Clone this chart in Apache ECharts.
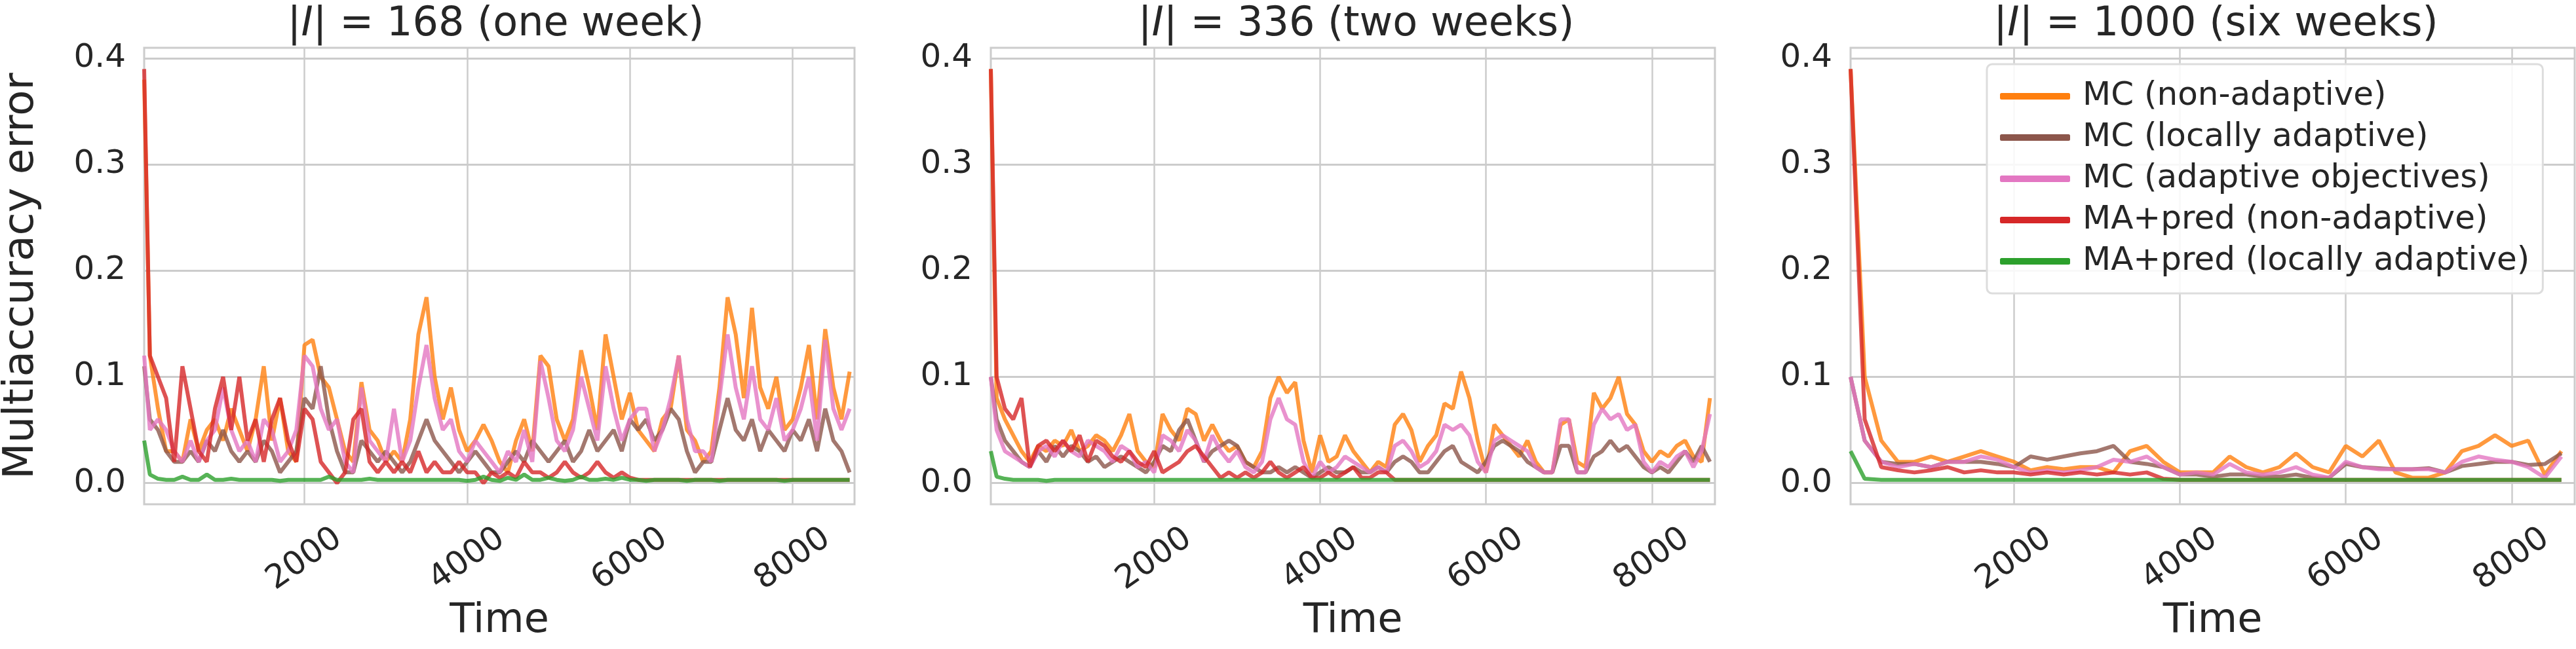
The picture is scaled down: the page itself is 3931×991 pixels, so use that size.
<!DOCTYPE html>
<html>
<head>
<meta charset="utf-8">
<script src="https://cdn.jsdelivr.net/npm/echarts@6/dist/echarts.min.js"></script>
<style>
  html, body { margin: 0; padding: 0; background: #fff; }
  #chart { width: 3931px; height: 991px; }
</style>
</head>
<body>
<div id="chart"></div>
<script>
// series names and colours (legend order)
const names = ["MC (non-adaptive)", "MC (locally adaptive)", "MC (adaptive objectives)", "MA+pred (non-adaptive)", "MA+pred (locally adaptive)"];
const colors = ["#ff7f0e", "#8c564b", "#e377c2", "#d62728", "#2ca02c"];
const titles = ["168 (one week)", "336 (two weeks)", "1000 (six weeks)"];
const xTicks = [2000, 4000, 6000, 8000];
const yTicks = [0, 0.1, 0.2, 0.3, 0.4];

// panel 1 and 2: first point t=30, then every 100 hours
// panel 3: first point t=30, then every 200 hours
const o1 = [0.38,0.12,0.07,0.03,0.03,0.02,0.06,0.03,0.05,0.06,0.04,0.07,0.05,0.03,0.06,0.11,0.04,0.08,0.03,0.02,0.13,0.135,0.1,0.09,0.06,0.03,0.02,0.095,0.05,0.04,0.02,0.03,0.02,0.06,0.14,0.175,0.1,0.06,0.09,0.05,0.03,0.04,0.055,0.04,0.02,0.01,0.04,0.06,0.03,0.12,0.11,0.06,0.04,0.06,0.125,0.09,0.05,0.14,0.1,0.06,0.085,0.05,0.04,0.03,0.06,0.07,0.12,0.05,0.04,0.02,0.03,0.09,0.175,0.14,0.08,0.165,0.09,0.07,0.1,0.05,0.06,0.09,0.13,0.06,0.145,0.09,0.06,0.105];
const b1 = [0.11,0.06,0.05,0.03,0.02,0.02,0.03,0.02,0.04,0.03,0.05,0.03,0.02,0.03,0.02,0.04,0.03,0.01,0.02,0.03,0.08,0.07,0.11,0.06,0.03,0.01,0.01,0.04,0.03,0.02,0.03,0.02,0.01,0.02,0.04,0.06,0.04,0.03,0.02,0.01,0.02,0.03,0.02,0.01,0.01,0.02,0.03,0.02,0.04,0.03,0.02,0.03,0.04,0.02,0.03,0.05,0.03,0.04,0.05,0.03,0.06,0.05,0.06,0.04,0.05,0.07,0.06,0.03,0.01,0.02,0.02,0.05,0.08,0.05,0.04,0.06,0.03,0.05,0.04,0.03,0.05,0.04,0.06,0.03,0.07,0.04,0.03,0.01];
const p1 = [0.12,0.05,0.06,0.05,0.03,0.02,0.04,0.02,0.04,0.05,0.09,0.05,0.03,0.04,0.02,0.06,0.05,0.02,0.03,0.05,0.12,0.11,0.07,0.05,0.06,0.02,0.01,0.09,0.04,0.03,0.02,0.07,0.02,0.04,0.09,0.13,0.08,0.05,0.06,0.03,0.02,0.04,0.03,0.02,0.01,0.03,0.02,0.05,0.02,0.115,0.08,0.04,0.03,0.05,0.1,0.07,0.04,0.11,0.07,0.04,0.06,0.07,0.07,0.03,0.05,0.08,0.12,0.06,0.03,0.03,0.02,0.08,0.14,0.09,0.06,0.11,0.06,0.05,0.08,0.04,0.05,0.07,0.1,0.04,0.135,0.07,0.05,0.07];
const r1 = [0.39,0.12,0.1,0.08,0.02,0.11,0.07,0.03,0.02,0.07,0.1,0.05,0.1,0.04,0.06,0.02,0.06,0.08,0.04,0.02,0.07,0.06,0.02,0.01,0.0,0.01,0.06,0.07,0.02,0.01,0.02,0.01,0.02,0.01,0.03,0.01,0.02,0.01,0.01,0.02,0.01,0.01,0.0,0.01,0.005,0.01,0.005,0.02,0.01,0.01,0.005,0.01,0.02,0.01,0.005,0.01,0.02,0.01,0.005,0.01,0.005,0.003,0.003,0.003,0.003,0.003,0.003,0.003,0.003,0.003,0.003,0.003,0.003,0.003,0.003,0.003,0.003,0.003,0.003,0.003,0.003,0.003,0.003,0.003,0.003,0.003,0.003,0.003];
const g1 = [0.04,0.008,0.004,0.003,0.003,0.006,0.003,0.003,0.008,0.003,0.003,0.004,0.003,0.003,0.003,0.003,0.003,0.002,0.003,0.003,0.003,0.003,0.003,0.006,0.003,0.003,0.003,0.003,0.004,0.003,0.003,0.003,0.003,0.003,0.003,0.003,0.003,0.003,0.003,0.003,0.002,0.003,0.006,0.003,0.002,0.005,0.003,0.008,0.003,0.003,0.005,0.003,0.002,0.003,0.006,0.003,0.003,0.004,0.003,0.005,0.003,0.003,0.002,0.003,0.003,0.003,0.003,0.002,0.003,0.003,0.003,0.002,0.003,0.003,0.003,0.003,0.003,0.003,0.003,0.002,0.003,0.003,0.003,0.003,0.003,0.003,0.003,0.003];

const o2 = [0.39,0.08,0.06,0.045,0.03,0.02,0.035,0.03,0.04,0.035,0.05,0.03,0.035,0.045,0.04,0.03,0.045,0.065,0.03,0.02,0.015,0.065,0.05,0.04,0.07,0.065,0.04,0.055,0.04,0.03,0.035,0.02,0.015,0.03,0.08,0.1,0.085,0.095,0.04,0.01,0.045,0.02,0.025,0.045,0.03,0.02,0.01,0.02,0.015,0.055,0.065,0.05,0.02,0.035,0.045,0.075,0.07,0.105,0.08,0.04,0.01,0.055,0.045,0.035,0.025,0.04,0.02,0.01,0.01,0.055,0.06,0.02,0.015,0.085,0.07,0.08,0.1,0.065,0.055,0.03,0.02,0.03,0.025,0.035,0.04,0.025,0.02,0.08];
const b2 = [0.1,0.06,0.04,0.03,0.02,0.015,0.03,0.02,0.035,0.025,0.035,0.03,0.02,0.025,0.015,0.02,0.025,0.02,0.015,0.01,0.02,0.035,0.03,0.05,0.06,0.04,0.02,0.03,0.035,0.04,0.035,0.02,0.015,0.01,0.01,0.015,0.01,0.015,0.01,0.005,0.01,0.015,0.01,0.01,0.015,0.01,0.01,0.015,0.01,0.02,0.025,0.02,0.01,0.01,0.02,0.03,0.035,0.02,0.015,0.01,0.02,0.035,0.04,0.035,0.03,0.02,0.015,0.01,0.01,0.035,0.035,0.01,0.01,0.025,0.03,0.04,0.03,0.035,0.025,0.015,0.01,0.015,0.01,0.02,0.03,0.02,0.035,0.02];
const p2 = [0.1,0.05,0.03,0.025,0.02,0.015,0.03,0.035,0.025,0.04,0.03,0.025,0.04,0.035,0.03,0.02,0.035,0.03,0.015,0.02,0.01,0.045,0.04,0.03,0.05,0.04,0.02,0.045,0.03,0.02,0.03,0.015,0.01,0.02,0.06,0.08,0.06,0.055,0.02,0.005,0.02,0.01,0.015,0.025,0.02,0.015,0.01,0.015,0.01,0.035,0.04,0.03,0.015,0.02,0.03,0.055,0.05,0.055,0.045,0.02,0.01,0.04,0.045,0.04,0.035,0.03,0.015,0.01,0.01,0.06,0.06,0.01,0.01,0.055,0.07,0.06,0.065,0.05,0.055,0.02,0.01,0.02,0.015,0.025,0.03,0.015,0.03,0.065];
const r2 = [0.39,0.1,0.07,0.06,0.08,0.015,0.035,0.04,0.03,0.04,0.03,0.045,0.02,0.04,0.035,0.025,0.02,0.03,0.02,0.015,0.03,0.01,0.015,0.02,0.03,0.035,0.025,0.015,0.005,0.01,0.005,0.01,0.005,0.01,0.02,0.01,0.005,0.01,0.015,0.005,0.005,0.01,0.005,0.01,0.015,0.005,0.005,0.01,0.01,0.003,0.003,0.003,0.003,0.003,0.003,0.003,0.003,0.003,0.003,0.003,0.003,0.003,0.003,0.003,0.003,0.003,0.003,0.003,0.003,0.003,0.003,0.003,0.003,0.003,0.003,0.003,0.003,0.003,0.003,0.003,0.003,0.003,0.003,0.003,0.003,0.003,0.003,0.003];
const g2 = [0.03,0.006,0.004,0.003,0.003,0.003,0.003,0.002,0.003,0.003,0.003,0.003,0.003,0.003,0.003,0.003,0.003,0.003,0.003,0.003,0.003,0.003,0.003,0.003,0.003,0.003,0.003,0.003,0.003,0.003,0.003,0.003,0.003,0.003,0.003,0.003,0.003,0.003,0.003,0.003,0.003,0.003,0.003,0.003,0.003,0.003,0.003,0.003,0.003,0.003,0.003,0.003,0.003,0.003,0.003,0.003,0.003,0.003,0.003,0.003,0.003,0.003,0.003,0.003,0.003,0.003,0.003,0.003,0.003,0.003,0.003,0.003,0.003,0.003,0.003,0.003,0.003,0.003,0.003,0.003,0.003,0.003,0.003,0.003,0.003,0.003,0.003,0.003];

const o3 = [0.39,0.1,0.04,0.02,0.02,0.025,0.02,0.025,0.03,0.025,0.02,0.012,0.015,0.013,0.015,0.015,0.01,0.03,0.035,0.02,0.01,0.01,0.01,0.025,0.015,0.01,0.015,0.028,0.015,0.01,0.035,0.025,0.04,0.01,0.005,0.005,0.01,0.03,0.035,0.045,0.035,0.04,0.008,0.03];
const b3 = [0.1,0.04,0.02,0.018,0.018,0.015,0.02,0.02,0.02,0.018,0.015,0.025,0.022,0.025,0.028,0.03,0.035,0.02,0.018,0.015,0.008,0.008,0.006,0.008,0.008,0.006,0.006,0.008,0.005,0.005,0.018,0.015,0.014,0.013,0.013,0.014,0.01,0.016,0.018,0.02,0.02,0.017,0.018,0.028];
const p3 = [0.1,0.04,0.02,0.015,0.018,0.015,0.02,0.02,0.025,0.022,0.015,0.01,0.012,0.01,0.012,0.015,0.022,0.02,0.025,0.015,0.008,0.01,0.008,0.018,0.01,0.008,0.01,0.015,0.008,0.005,0.02,0.015,0.013,0.013,0.013,0.013,0.01,0.02,0.025,0.022,0.02,0.015,0.005,0.025];
const r3 = [0.39,0.06,0.015,0.012,0.01,0.012,0.015,0.01,0.012,0.01,0.01,0.008,0.01,0.008,0.01,0.008,0.01,0.008,0.01,0.004,0.003,0.003,0.003,0.003,0.003,0.003,0.003,0.003,0.003,0.003,0.003,0.003,0.003,0.003,0.003,0.003,0.003,0.003,0.003,0.003,0.003,0.003,0.003,0.003];
const g3 = [0.03,0.004,0.003,0.003,0.003,0.003,0.003,0.003,0.003,0.003,0.003,0.003,0.003,0.003,0.003,0.003,0.003,0.003,0.003,0.003,0.003,0.003,0.003,0.003,0.003,0.003,0.003,0.003,0.003,0.003,0.003,0.003,0.003,0.003,0.003,0.003,0.003,0.003,0.003,0.003,0.003,0.003,0.003,0.003];

const panels = [
  { step: 100, data: [o1, b1, p1, r1, g1] },
  { step: 100, data: [o2, b2, p2, r2, g2] },
  { step: 200, data: [o3, b3, p3, r3, g3] },
];

const lefts = [199, 1512, 2824];
const gridW = 1105;
const font = "DejaVu Sans";
const txt = "#262626";

const grid = [], xAxis = [], yAxis = [], title = [], series = [];
panels.forEach((pn, k) => {
  grid.push({ left: lefts[k], top: 73, width: gridW, height: 697, show: true, borderColor: "#cccccc", borderWidth: 3, backgroundColor: "#fff" });
  title.push({
    text: "{b||}{i|I}{b|| = " + titles[k] + "}",
    left: lefts[k] + gridW / 2, textAlign: "center", top: 2,
    textStyle: { rich: {
      b: { fontFamily: font, fontSize: 62, fontWeight: "normal", color: txt },
      i: { fontFamily: font, fontSize: 62, fontWeight: "normal", color: txt, fontStyle: "italic" },
    } },
  });
  xAxis.push({
    gridIndex: k, type: "value", min: 30, max: 8760,
    name: "Time", nameLocation: "middle", nameGap: 178,
    nameTextStyle: { fontFamily: font, fontSize: 62, color: txt, verticalAlign: "middle" },
    axisLine: { show: false }, axisTick: { show: false, customValues: xTicks },
    axisLabel: { customValues: xTicks, rotate: 35, align: "center", verticalAlign: "middle", margin: 84, fontFamily: font, fontSize: 50, color: txt, formatter: v => String(v) },
    splitLine: { show: true, lineStyle: { color: "#cccccc", width: 2.5 } },
  });
  yAxis.push({
    gridIndex: k, type: "value", min: -0.02, max: 0.41,
    name: k === 0 ? "Multiaccuracy error" : "", nameLocation: "middle", nameGap: 155,
    nameTextStyle: { fontFamily: font, fontSize: 64, color: txt },
    axisLine: { show: false }, axisTick: { show: false, customValues: yTicks },
    axisLabel: { customValues: yTicks, margin: 28, fontFamily: font, fontSize: 50, color: txt, formatter: v => v.toFixed(1) },
    splitLine: { show: true, lineStyle: { color: "#cccccc", width: 3 } },
  });
  pn.data.forEach((vals, s) => {
    series.push({
      name: names[s], type: "line", xAxisIndex: k, yAxisIndex: k,
      showSymbol: false, animation: false, z: 2 + s,
      lineStyle: { color: colors[s], width: 6, opacity: 0.8 },
      itemStyle: { color: colors[s] },
      data: vals.map((v, i) => [i === 0 ? 30 : i * pn.step, v]),
    });
  });
});

const chart = echarts.init(document.getElementById("chart"));
chart.setOption({
  animation: false,
  title, grid, xAxis, yAxis, series,
  legend: {
    data: names, orient: "vertical", left: 3032, top: 98,
    width: 865, padding: [24, 20, 24, 20],
    backgroundColor: "rgba(255,255,255,0.85)", borderColor: "#dddddd", borderWidth: 3, borderRadius: 8,
    itemWidth: 107, itemHeight: 10, itemGap: 13,
    icon: "roundRect",
    textStyle: { fontFamily: font, fontSize: 50, color: txt, padding: [0, 0, 0, 14] },
  },
});
</script>
</body>
</html>
